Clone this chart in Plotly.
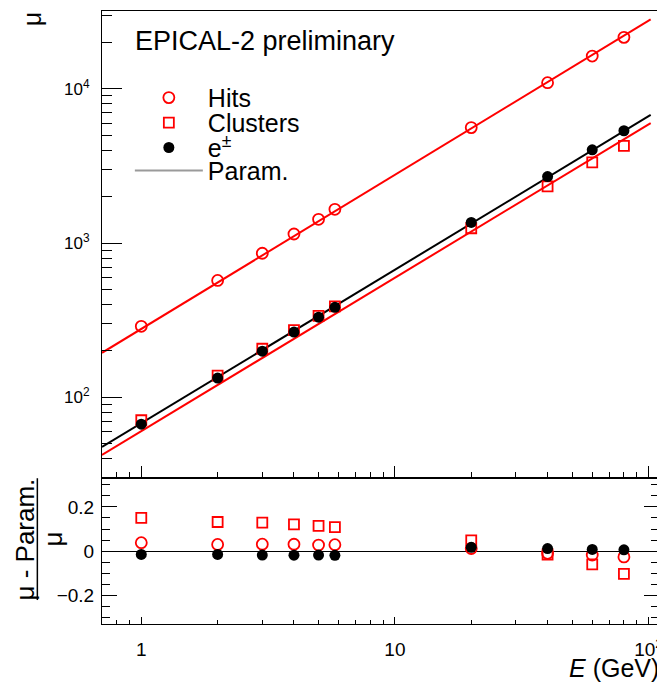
import numpy as np
import plotly.graph_objects as go

# ---------------- data ----------------
energy = [1, 2, 3, 4, 5, 5.8, 20, 40, 60, 80]                      # E (GeV)
mu_hits = [289, 573, 860, 1146, 1427, 1658, 5610, 10970, 16320, 21580]
mu_clusters = [71.1, 138.6, 206.8, 272.7, 337.9, 389.1, 1249, 2332, 3342, 4276]
mu_electrons = [67.0, 133.5, 199.3, 265.3, 331.3, 383.7, 1363, 2702, 4028, 5353]

# parametrisation mu = a * E^b (fit curves shown in the figure)
param_hits = (278.0, 0.999)
param_clusters = (60.4, 0.9945)
param_electrons = (68.0, 0.995)
param_e_range = [0.7, 102]

x_tickvals = [1, 10, 100]
x_ticktext = ["1", "10", "10<sup>2</sup>"]
y_tickvals = [100, 1000, 10000]
y_ticktext = ["10<sup>2</sup>", "10<sup>3</sup>", "10<sup>4</sup>"]

FONT = "Liberation Sans, Arial, sans-serif"
RED = "#ff0000"
BLACK = "#000000"


def param(p, e):
    e = np.asarray(e, dtype=float)
    return p[0] * e ** p[1]


def residual(mu, p):
    mu = np.asarray(mu, dtype=float)
    return (mu - param(p, energy)) / mu


fig = go.Figure()

# ---- parametrisation lines (top panel)
for p, col in [(param_hits, RED), (param_clusters, RED), (param_electrons, BLACK)]:
    fig.add_trace(go.Scatter(x=param_e_range, y=param(p, param_e_range), mode="lines",
                             line=dict(color=col, width=2), showlegend=False,
                             hoverinfo="skip", xaxis="x", yaxis="y"))

# ---- data points (top panel)
fig.add_trace(go.Scatter(x=energy, y=mu_hits, mode="markers", name="Hits",
                         marker=dict(symbol="circle-open", size=11, color=RED,
                                     line=dict(width=1.8, color=RED)),
                         legend="legend", xaxis="x", yaxis="y"))
fig.add_trace(go.Scatter(x=energy, y=mu_clusters, mode="markers", name="Clusters",
                         marker=dict(symbol="square-open", size=10, color=RED,
                                     line=dict(width=1.8, color=RED)),
                         legend="legend2", xaxis="x", yaxis="y"))
fig.add_trace(go.Scatter(x=energy, y=mu_electrons, mode="markers", name="e<sup>±</sup>",
                         marker=dict(symbol="circle", size=11, color=BLACK),
                         legend="legend3", xaxis="x", yaxis="y"))
fig.add_trace(go.Scatter(x=[None], y=[None], mode="lines", name="Param.",
                         line=dict(color="#9a9a9a", width=2),
                         legend="legend4", xaxis="x", yaxis="y"))

# ---- residuals (bottom panel)
fig.add_trace(go.Scatter(x=energy, y=residual(mu_hits, param_hits), mode="markers",
                         marker=dict(symbol="circle-open", size=11, color=RED,
                                     line=dict(width=1.8, color=RED)),
                         showlegend=False, xaxis="x2", yaxis="y2"))
fig.add_trace(go.Scatter(x=energy, y=residual(mu_clusters, param_clusters), mode="markers",
                         marker=dict(symbol="square-open", size=10, color=RED,
                                     line=dict(width=1.8, color=RED)),
                         showlegend=False, xaxis="x2", yaxis="y2"))
fig.add_trace(go.Scatter(x=energy, y=residual(mu_electrons, param_electrons), mode="markers",
                         marker=dict(symbol="circle", size=11, color=BLACK),
                         showlegend=False, xaxis="x2", yaxis="y2"))

split = 0.2378
x_range = [np.log10(0.7), np.log10(110)]
x_minor = [0.7, 0.8, 0.9] + [k for k in range(2, 10)] + [10 * k for k in range(2, 10)]
y_minor = ([10 * k for k in range(4, 10)] + [100 * k for k in range(2, 10)]
           + [1000 * k for k in range(2, 10)] + [20000, 30000])

axis_common = dict(showgrid=False, showline=True, linecolor=BLACK, linewidth=1,
                   tickcolor=BLACK, tickwidth=1, ticks="inside", zeroline=False)

legend_common = dict(font=dict(family=FONT, size=25, color=BLACK), bgcolor="rgba(0,0,0,0)",
                     xanchor="left", yanchor="middle", x=0.05, itemwidth=68,
                     borderwidth=0)

# the page body has an 8px margin, so the figure is 8px smaller than the window
fig.update_layout(
    width=657, height=674,
    margin=dict(l=94, r=3, t=2, b=58),
    paper_bgcolor="white", plot_bgcolor="white",
    font=dict(family=FONT, color=BLACK),
    xaxis=dict(type="log", range=x_range, domain=[0, 1], anchor="y", matches="x2",
               tickmode="array", tickvals=x_tickvals, ticktext=x_ticktext,
               showticklabels=False, ticklen=12, mirror=True,
               minor=dict(tickmode="array", tickvals=x_minor, ticks="inside",
                          ticklen=6, tickcolor=BLACK, showgrid=False),
               **axis_common),
    yaxis=dict(type="log", range=[1.476, 4.505], domain=[split, 1], anchor="x",
               tickmode="array", tickvals=y_tickvals, ticktext=y_ticktext,
               ticklen=20, mirror=True, ticklabelstandoff=8,
               tickfont=dict(family=FONT, size=17, color=BLACK),
               minor=dict(tickmode="array", tickvals=y_minor, ticks="inside",
                          ticklen=10, tickcolor=BLACK, showgrid=False),
               **axis_common),
    xaxis2=dict(type="log", range=x_range, domain=[0, 1], anchor="y2",
                tickmode="array", tickvals=x_tickvals, ticktext=x_ticktext,
                ticklen=7, mirror=True, ticklabelstandoff=8, ticklabeloverflow="allow",
                tickfont=dict(family=FONT, size=19, color=BLACK),
                minor=dict(tickmode="array", tickvals=x_minor, ticks="inside",
                           ticklen=4, tickcolor=BLACK, showgrid=False),
                **axis_common),
    yaxis2=dict(range=[-0.33, 0.33], domain=[0, split], anchor="x2",
                tickmode="linear", tick0=0, dtick=0.2, ticklen=15, mirror="ticks",
                ticklabelstandoff=3,
                tickfont=dict(family=FONT, size=19, color=BLACK),
                minor=dict(dtick=0.05, tick0=0, ticks="inside", ticklen=8,
                           tickcolor=BLACK, showgrid=False),
                **{**axis_common, "zeroline": True}, zerolinecolor=BLACK, zerolinewidth=1),
    legend=dict(y=0.8583, **legend_common),
    legend2=dict(y=0.8176, **legend_common),
    legend3=dict(y=0.7769, **legend_common),
    legend4=dict(y=0.7394, **legend_common),
    showlegend=True,
)

ann_font = dict(family=FONT, color=BLACK)
fig.add_annotation(text="EPICAL-2 preliminary", xref="paper", yref="paper",
                   x=0.0554, y=(624 - 40) / 614, xanchor="left", yanchor="middle",
                   showarrow=False, font=dict(size=27, **ann_font))
fig.add_annotation(text="μ", xref="paper", yref="paper", x=(32 - 102) / 560,
                   y=(624 - 18) / 614, xanchor="center", yanchor="middle",
                   textangle=-90, showarrow=False, font=dict(size=25, **ann_font))
fig.add_annotation(text="<i>E</i> (GeV)", xref="paper", yref="paper", x=(664 - 102) / 560,
                   y=(624 - 668) / 614, xanchor="right", yanchor="middle",
                   showarrow=False, font=dict(size=25, **ann_font))
# fraction label of the ratio panel
fig.add_annotation(text="μ - Param.", xref="paper", yref="paper", x=(25 - 102) / 560,
                   y=(624 - 539) / 614, xanchor="center", yanchor="middle",
                   textangle=-90, showarrow=False, font=dict(size=26, **ann_font))
fig.add_annotation(text="μ", xref="paper", yref="paper", x=(53 - 102) / 560,
                   y=(624 - 539) / 614, xanchor="center", yanchor="middle",
                   textangle=-90, showarrow=False, font=dict(size=26, **ann_font))
fig.add_shape(type="line", xref="paper", yref="paper",
              x0=(37 - 102) / 560, x1=(37 - 102) / 560,
              y0=(624 - 478) / 614, y1=(624 - 600) / 614,
              line=dict(color=BLACK, width=1.5))

fig.write_html("out.html")
